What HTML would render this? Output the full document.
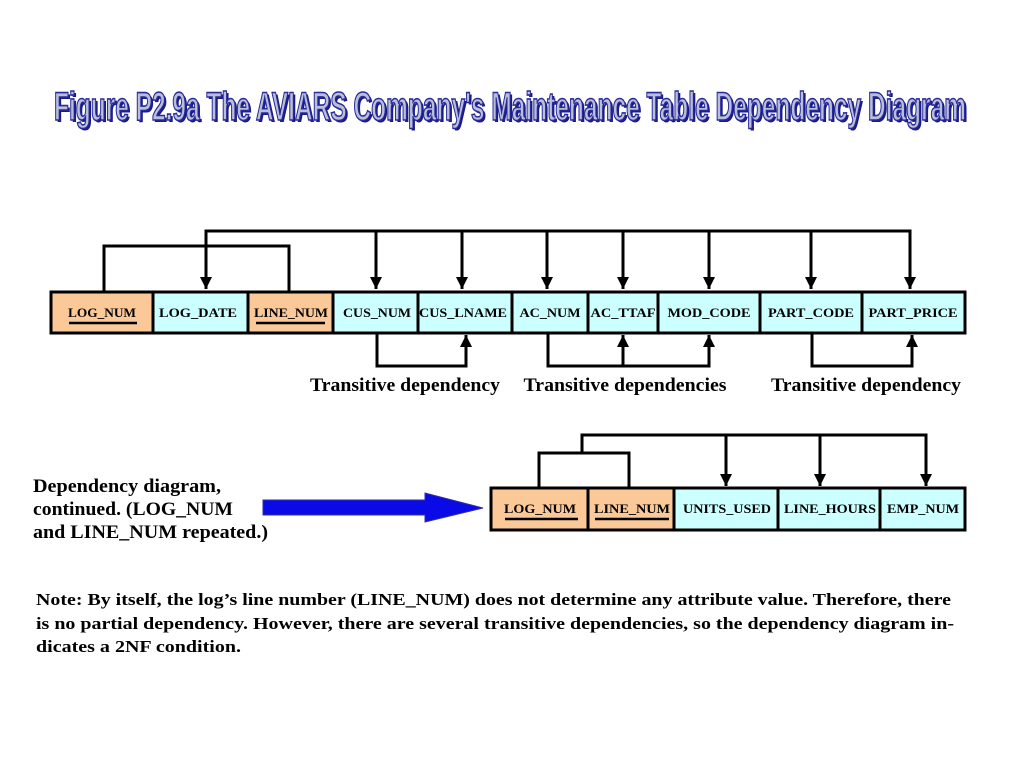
<!DOCTYPE html>
<html><head><meta charset="utf-8"><style>
html,body{margin:0;padding:0;background:#fff;width:1024px;height:768px;overflow:hidden}
svg{display:block}
.b{font-family:"Liberation Serif",serif;font-weight:bold;font-size:13px;fill:#000}
.t{font-family:"Liberation Serif",serif;font-weight:bold;font-size:19px;fill:#000}
</style></head><body>
<svg width="1024" height="768" viewBox="0 0 1024 768" xmlns="http://www.w3.org/2000/svg">
<defs>
<marker id="ar" viewBox="0 0 10 10" refX="10" refY="5" markerWidth="4" markerHeight="4" orient="auto-start-reverse">
<path d="M0,0 L10,5 L0,10 z" fill="#000"/></marker>
</defs>
<!-- Title -->
<text x="512" y="122" text-anchor="middle" textLength="912" lengthAdjust="spacingAndGlyphs" font-family="Liberation Sans Narrow, Liberation Sans, sans-serif" font-weight="bold" font-size="40" fill="#1a1a8a">Figure P2.9a  The AVIARS Company's Maintenance Table Dependency Diagram</text>
<text x="510" y="120" text-anchor="middle" textLength="912" lengthAdjust="spacingAndGlyphs" font-family="Liberation Sans Narrow, Liberation Sans, sans-serif" font-weight="bold" font-size="40" fill="#b8bfd8" stroke="#2a2a9a" stroke-width="1.6">Figure P2.9a  The AVIARS Company's Maintenance Table Dependency Diagram</text>

<g stroke="#000" stroke-width="3" fill="none">
<polyline points="104,291 104,246 289,246 289,291"/>
<line x1="206" y1="231" x2="910" y2="231"/>
<line x1="206" y1="229.5" x2="206" y2="289" marker-end="url(#ar)"/>
<line x1="376" y1="231" x2="376" y2="289" marker-end="url(#ar)"/>
<line x1="462" y1="231" x2="462" y2="289" marker-end="url(#ar)"/>
<line x1="547" y1="231" x2="547" y2="289" marker-end="url(#ar)"/>
<line x1="623" y1="231" x2="623" y2="289" marker-end="url(#ar)"/>
<line x1="709" y1="231" x2="709" y2="289" marker-end="url(#ar)"/>
<line x1="811" y1="231" x2="811" y2="289" marker-end="url(#ar)"/>
<line x1="910" y1="229.5" x2="910" y2="289" marker-end="url(#ar)"/>
<polyline points="377,333 377,366 466,366 466,335" marker-end="url(#ar)"/>
<polyline points="548,333 548,366 709,366 709,335" marker-end="url(#ar)"/>
<line x1="623" y1="366" x2="623" y2="335" marker-end="url(#ar)"/>
<polyline points="812,333 812,366 912,366 912,335" marker-end="url(#ar)"/>
<polyline points="539,488 539,453 629,453 629,488"/>
<line x1="582" y1="453" x2="582" y2="435"/>
<line x1="580.5" y1="435" x2="926" y2="435"/>
<line x1="726" y1="435" x2="726" y2="486" marker-end="url(#ar)"/>
<line x1="820" y1="435" x2="820" y2="486" marker-end="url(#ar)"/>
<line x1="926" y1="433.5" x2="926" y2="486" marker-end="url(#ar)"/>
</g>

<g stroke="#000" stroke-width="3">
<rect x="51" y="292" width="102" height="41" fill="#fbc898"/>
<rect x="153" y="292" width="95" height="41" fill="#ccffff"/>
<rect x="248" y="292" width="85" height="41" fill="#fbc898"/>
<rect x="333" y="292" width="85" height="41" fill="#ccffff"/>
<rect x="418" y="292" width="94" height="41" fill="#ccffff"/>
<rect x="512" y="292" width="76" height="41" fill="#ccffff"/>
<rect x="588" y="292" width="70" height="41" fill="#ccffff"/>
<rect x="658" y="292" width="102" height="41" fill="#ccffff"/>
<rect x="760" y="292" width="102" height="41" fill="#ccffff"/>
<rect x="862" y="292" width="103" height="41" fill="#ccffff"/>
</g>
<g class="b" text-anchor="middle">
<text x="102" y="317" textLength="68" lengthAdjust="spacingAndGlyphs">LOG_NUM</text>
<text x="198" y="317" textLength="78" lengthAdjust="spacingAndGlyphs">LOG_DATE</text>
<text x="291" y="317" textLength="74" lengthAdjust="spacingAndGlyphs">LINE_NUM</text>
<text x="377" y="317" textLength="68" lengthAdjust="spacingAndGlyphs">CUS_NUM</text>
<text x="463" y="317" textLength="88" lengthAdjust="spacingAndGlyphs">CUS_LNAME</text>
<text x="550" y="317" textLength="61" lengthAdjust="spacingAndGlyphs">AC_NUM</text>
<text x="623" y="317" textLength="65" lengthAdjust="spacingAndGlyphs">AC_TTAF</text>
<text x="709" y="317" textLength="83" lengthAdjust="spacingAndGlyphs">MOD_CODE</text>
<text x="811" y="317" textLength="86" lengthAdjust="spacingAndGlyphs">PART_CODE</text>
<text x="913" y="317" textLength="89" lengthAdjust="spacingAndGlyphs">PART_PRICE</text>
</g>
<line x1="69" y1="323" x2="137" y2="323" stroke="#000" stroke-width="2.5"/>
<line x1="256" y1="323" x2="325" y2="323" stroke="#000" stroke-width="2.5"/>

<g class="t" text-anchor="middle">
<text x="405" y="391" textLength="190" lengthAdjust="spacingAndGlyphs">Transitive dependency</text>
<text x="625" y="391" textLength="203" lengthAdjust="spacingAndGlyphs">Transitive dependencies</text>
<text x="866" y="391" textLength="190" lengthAdjust="spacingAndGlyphs">Transitive dependency</text>
</g>

<g stroke="#000" stroke-width="3">
<rect x="491" y="488" width="97" height="42" fill="#fbc898"/>
<rect x="588" y="488" width="86" height="42" fill="#fbc898"/>
<rect x="674" y="488" width="104" height="42" fill="#ccffff"/>
<rect x="778" y="488" width="102" height="42" fill="#ccffff"/>
<rect x="880" y="488" width="85" height="42" fill="#ccffff"/>
</g>
<g class="b" text-anchor="middle">
<text x="540" y="513" textLength="72" lengthAdjust="spacingAndGlyphs">LOG_NUM</text>
<text x="632" y="513" textLength="76" lengthAdjust="spacingAndGlyphs">LINE_NUM</text>
<text x="727" y="513" textLength="88" lengthAdjust="spacingAndGlyphs">UNITS_USED</text>
<text x="830" y="513" textLength="92" lengthAdjust="spacingAndGlyphs">LINE_HOURS</text>
<text x="923" y="513" textLength="72" lengthAdjust="spacingAndGlyphs">EMP_NUM</text>
</g>
<line x1="505" y1="519" x2="578" y2="519" stroke="#000" stroke-width="2.5"/>
<line x1="595" y1="519" x2="669" y2="519" stroke="#000" stroke-width="2.5"/>

<g class="t">
<text x="33" y="492" textLength="188" lengthAdjust="spacingAndGlyphs">Dependency diagram,</text>
<text x="33" y="515" textLength="200" lengthAdjust="spacingAndGlyphs">continued. (LOG_NUM</text>
<text x="33" y="538" textLength="235" lengthAdjust="spacingAndGlyphs">and LINE_NUM repeated.)</text>
</g>
<polygon points="263,500 425,500 425,493 483,508 425,522 425,515 263,515" fill="#0a0ae6" stroke="#3030a0" stroke-width="1"/>

<g font-family="Liberation Serif, serif" font-weight="bold" font-size="17" fill="#000">
<text x="36" y="605" textLength="915" lengthAdjust="spacingAndGlyphs">Note: By itself, the log’s line number (LINE_NUM) does not determine any attribute value. Therefore, there</text>
<text x="36" y="629" textLength="918" lengthAdjust="spacingAndGlyphs">is no partial dependency. However, there are several transitive dependencies, so the dependency diagram in-</text>
<text x="36" y="652" textLength="205" lengthAdjust="spacingAndGlyphs">dicates a 2NF condition.</text>
</g>
</svg>
</body></html>
